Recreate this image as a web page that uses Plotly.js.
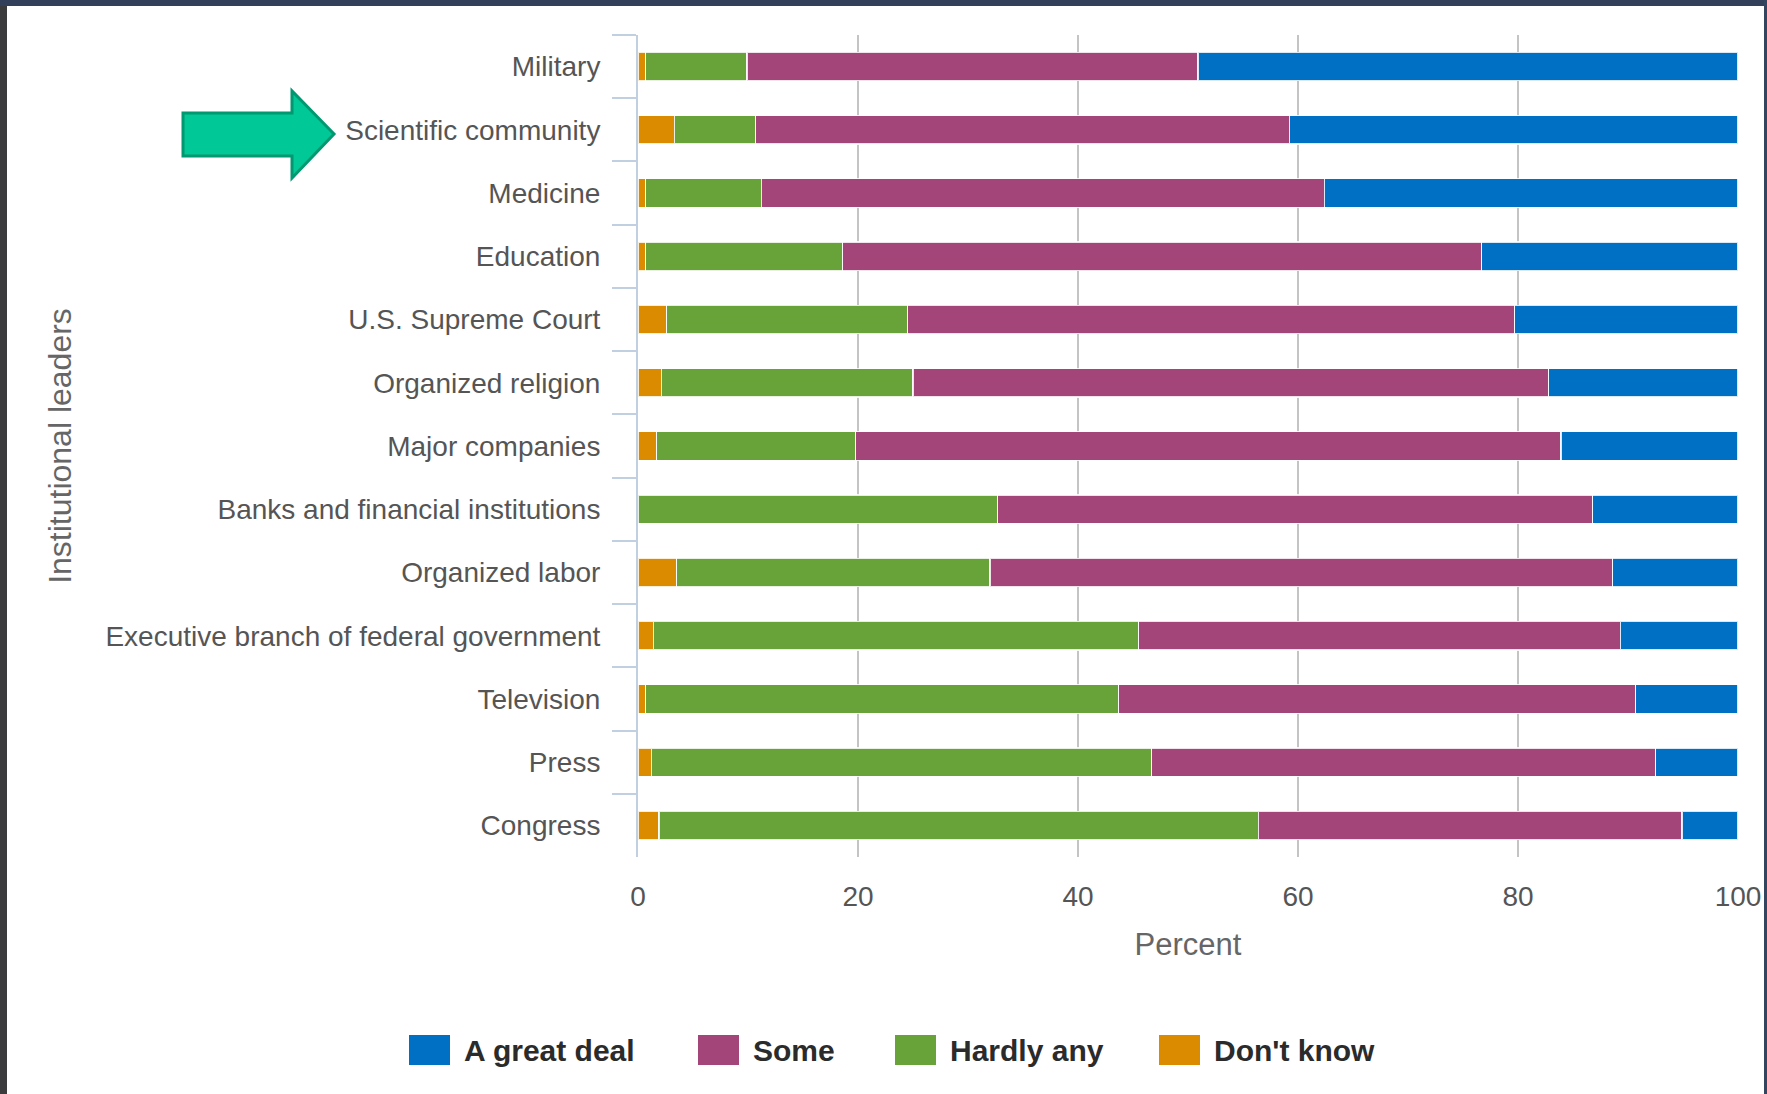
<!DOCTYPE html>
<html>
<head>
<meta charset="utf-8">
<script src="https://cdn.plot.ly/plotly-3.0.1.min.js"></script>
<style>
  html, body { margin: 0; padding: 0; background: #ffffff; }
  #chart { width: 1767px; height: 1094px; }
</style>
</head>
<body>
<div id="chart"></div>
<script>
// ---- data ----
const categories = [
  "Military",
  "Scientific community",
  "Medicine",
  "Education",
  "U.S. Supreme Court",
  "Organized religion",
  "Major companies",
  "Banks and financial institutions",
  "Organized labor",
  "Executive branch of federal government",
  "Television",
  "Press",
  "Congress"
];
const dontKnow  = [0.7, 3.3, 0.7, 0.7, 2.6, 2.1, 1.7, 0.0, 3.5, 1.4, 0.7, 1.2, 1.9];
const hardlyAny = [9.2, 7.4, 10.5, 17.9, 21.9, 22.9, 18.1, 32.7, 28.5, 44.1, 43.0, 45.5, 54.5];
const some      = [41.0, 48.5, 51.2, 58.1, 55.2, 57.8, 64.1, 54.1, 56.6, 43.8, 47.0, 45.8, 38.5];
const greatDeal = [49.1, 40.8, 37.6, 23.3, 20.3, 17.2, 16.1, 13.2, 11.4, 10.7, 9.3, 7.5, 5.1];

const seriesNames  = ["Don't know", "Hardly any", "Some", "A great deal"];
const seriesValues = [dontKnow, hardlyAny, some, greatDeal];
const seriesColors = ["#DB8B00", "#68A33A", "#A4457A", "#0070C4"];
const legendOrder  = [3, 2, 1, 0];
const xTicks = [0, 20, 40, 60, 80, 100];

// ---- page geometry ----
const W = 1767, H = 1094;
const M = { l: 638, r: 29, t: 35, b: 237 };
const PW = W - M.l - M.r, PH = H - M.t - M.b;
const px = x => (x - M.l) / PW;
const py = y => 1 - (y - M.t) / PH;

const traces = seriesNames.map((name, i) => ({
  type: "bar",
  orientation: "h",
  name: name,
  y: categories,
  x: seriesValues[i],
  marker: { color: seriesColors[i], line: { color: "rgba(255,255,255,0.85)", width: 1.2 } },
  hoverinfo: "x+y+name"
}));

const shapes = [];
const annotations = [];

// dark picture border around the white panel
shapes.push({ type: "rect", xref: "paper", yref: "paper", x0: px(0), x1: px(7), y0: py(0), y1: py(H), fillcolor: "#3b3a3c", line: { width: 0 }, layer: "above" });
shapes.push({ type: "rect", xref: "paper", yref: "paper", x0: px(0), x1: px(W), y0: py(0), y1: py(6), fillcolor: "#33405a", line: { width: 0 }, layer: "above" });
shapes.push({ type: "rect", xref: "paper", yref: "paper", x0: px(1764), x1: px(W), y0: py(0), y1: py(H), fillcolor: "#34455f", line: { width: 0 }, layer: "above" });

// green block arrow pointing at "Scientific community"
const arrowPts = [[183,113],[292,113],[292,91],[334,134],[292,178],[292,156],[183,156]];
const arrowPath = "M" + arrowPts.map(p => px(p[0]) + "," + py(p[1])).join("L") + "Z";
shapes.push({ type: "path", xref: "paper", yref: "paper", path: arrowPath, fillcolor: "#00C896", line: { color: "#009870", width: 3 }, layer: "above" });

// custom legend (large square swatches)
const legendX = [409, 698, 895, 1159];
const swW = 41, swTop = 1035, swBot = 1065, legY = 1050;
legendOrder.forEach((si, k) => {
  shapes.push({ type: "rect", xref: "paper", yref: "paper",
    x0: px(legendX[k]), x1: px(legendX[k] + swW), y0: py(swBot), y1: py(swTop),
    fillcolor: seriesColors[si], line: { width: 0 } });
  annotations.push({ xref: "paper", yref: "paper", x: px(legendX[k] + swW + 12), y: py(legY),
    xanchor: "left", yanchor: "middle", showarrow: false, text: seriesNames[si],
    font: { family: "Liberation Sans, Arial, sans-serif", size: 30, color: "#2b2b2b", weight: "bold" } });
});

const layout = {
  width: W, height: H,
  margin: M,
  paper_bgcolor: "#ffffff",
  plot_bgcolor: "#ffffff",
  barmode: "stack",
  bargap: 0.55,
  showlegend: false,
  font: { family: "Liberation Sans, Arial, sans-serif", color: "#555555" },
  xaxis: {
    range: [0, 100],
    tickvals: xTicks,
    ticktext: xTicks.map(String),
    ticks: "",
    showline: false,
    zeroline: false,
    showgrid: true,
    gridcolor: "#C4C4C4",
    gridwidth: 2,
    ticklabelstandoff: 20,
    tickfont: { size: 28, color: "#555555" },
    title: { text: "Percent", font: { size: 31, color: "#666666" }, standoff: 22 },
    fixedrange: true
  },
  yaxis: {
    type: "category",
    autorange: "reversed",
    showline: true,
    linecolor: "#C0D0E0",
    linewidth: 2,
    ticks: "outside",
    tickson: "boundaries",
    ticklen: 24,
    tickwidth: 2,
    tickcolor: "#C0D0E0",
    showgrid: false,
    zeroline: false,
    ticklabelstandoff: 30,
    tickfont: { size: 28, color: "#555555" },
    title: { text: "Institutional leaders", font: { size: 32, color: "#666666" }, standoff: 24 },
    fixedrange: true
  },
  shapes: shapes,
  annotations: annotations
};

Plotly.newPlot("chart", traces, layout, { displayModeBar: false, staticPlot: true });
</script>
</body>
</html>
